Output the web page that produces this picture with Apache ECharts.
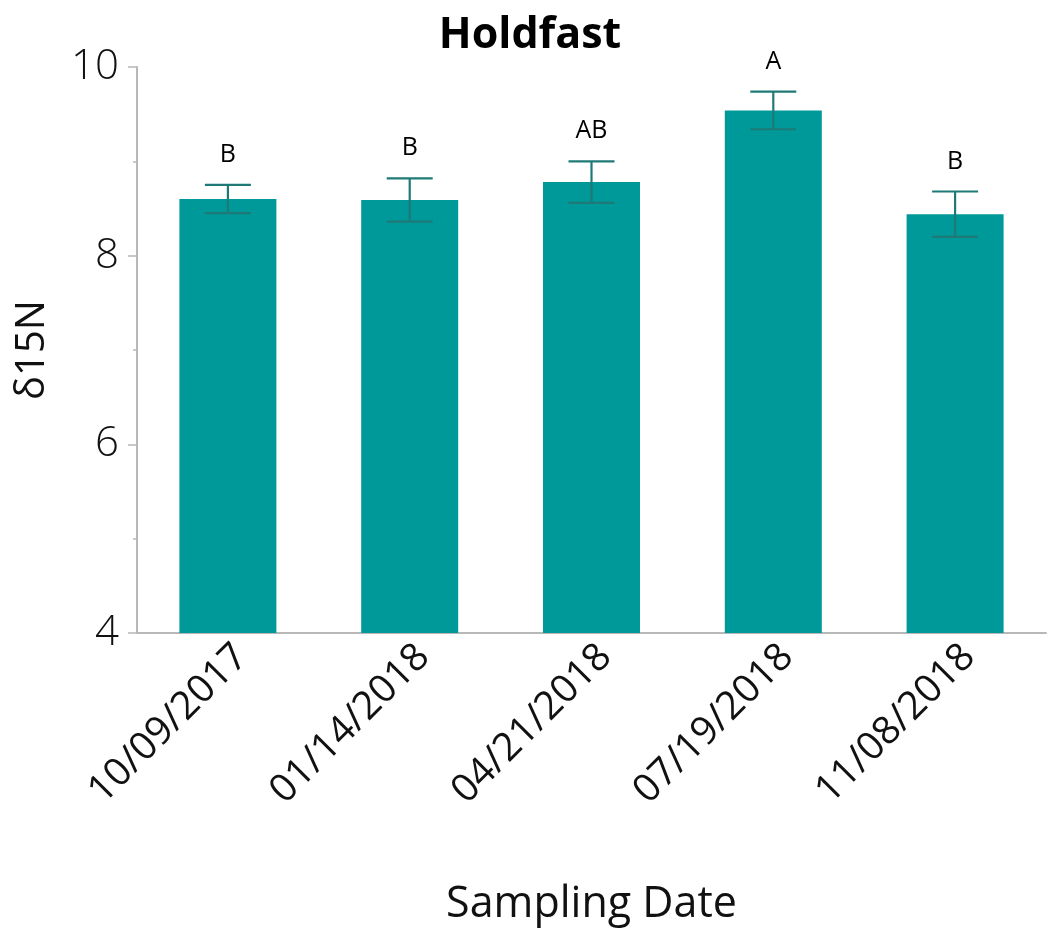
<!DOCTYPE html>
<html>
<head>
<meta charset="utf-8">
<script src="https://cdn.jsdelivr.net/npm/echarts@6/dist/echarts.min.js"></script>
<style>
  html, body { margin: 0; padding: 0; background: #fff; }
  #chart { width: 1060px; height: 930px; }
</style>
</head>
<body>
<div id="chart"></div>
<script>
// Sampling dates and mean δ15N per date, with standard error and group letters
const dates = ['10/09/2017', '01/14/2018', '04/21/2018', '07/19/2018', '11/08/2018'];
const means = [8.60, 8.59, 8.78, 9.54, 8.44];
const errors = [0.15, 0.23, 0.22, 0.20, 0.24];
const groups = ['B', 'B', 'AB', 'A', 'B'];
const yTicks = [4, 6, 8, 10];

const FONT = '"Open Sans", "Noto Sans", sans-serif';
const BAR = '#009999';
const WHISKER = '#1f7a77';

const chart = echarts.init(document.getElementById('chart'), null, { renderer: 'canvas' });

chart.setOption({
  backgroundColor: '#ffffff',
  animation: false,
  title: {
    text: 'Holdfast',
    left: 'center',
    top: 9,
    textStyle: { fontFamily: FONT, fontSize: 43, fontWeight: 'bold', color: '#000' }
  },
  grid: { left: 137, right: 14, top: 67, bottom: 297, outerBoundsMode: 'none', containLabel: false },
  xAxis: {
    type: 'category',
    data: dates,
    name: 'Sampling Date',
    nameLocation: 'middle',
    nameGap: 250,
    nameTextStyle: { fontFamily: FONT, fontSize: 43, color: '#111' },
    axisLine: { lineStyle: { color: '#b8b8b8', width: 2 } },
    axisTick: { show: false },
    axisLabel: {
      rotate: 45,
      margin: 4,
      verticalAlign: 'top',
      fontFamily: FONT,
      fontSize: 39,
      color: '#111'
    }
  },
  yAxis: {
    type: 'value',
    min: yTicks[0],
    max: yTicks[yTicks.length - 1],
    interval: 2,
    name: 'δ15N',
    nameLocation: 'middle',
    nameGap: 84,
    nameTextStyle: { fontFamily: FONT, fontSize: 40, color: '#111' },
    axisLine: { show: true, lineStyle: { color: '#b8b8b8', width: 2 } },
    axisTick: { show: true, length: 9, lineStyle: { color: '#b8b8b8', width: 1.5 } },
    minorTick: { show: true, splitNumber: 2, length: 4, lineStyle: { color: '#b8b8b8', width: 1.5 } },
    splitLine: { show: false },
    axisLabel: {
      margin: 18,
      fontFamily: FONT,
      fontSize: 42,
      fontWeight: 300,
      color: '#111'
    }
  },
  series: [
    {
      type: 'bar',
      data: means,
      barWidth: 97,
      itemStyle: { color: BAR },
      z: 2
    },
    {
      // error bars with group letters above
      type: 'custom',
      data: means.map((m, i) => [i, m, errors[i], groups[i]]),
      z: 3,
      renderItem: function (params, api) {
        const i = api.value(0);
        const m = api.value(1);
        const e = api.value(2);
        const top = api.coord([i, m + e]);
        const bot = api.coord([i, m - e]);
        const half = 23;
        const style = { stroke: WHISKER, lineWidth: 2.2 };
        return {
          type: 'group',
          children: [
            { type: 'line', shape: { x1: top[0], y1: top[1], x2: bot[0], y2: bot[1] }, style: style },
            { type: 'line', shape: { x1: top[0] - half, y1: top[1], x2: top[0] + half, y2: top[1] }, style: style },
            { type: 'line', shape: { x1: bot[0] - half, y1: bot[1], x2: bot[0] + half, y2: bot[1] }, style: style },
            {
              type: 'text',
              style: {
                text: groups[i],
                x: top[0],
                y: top[1] - 30,
                align: 'center',
                verticalAlign: 'middle',
                fontFamily: FONT,
                fontSize: 25,
                fill: '#000'
              }
            }
          ]
        };
      }
    }
  ]
});
</script>
</body>
</html>
